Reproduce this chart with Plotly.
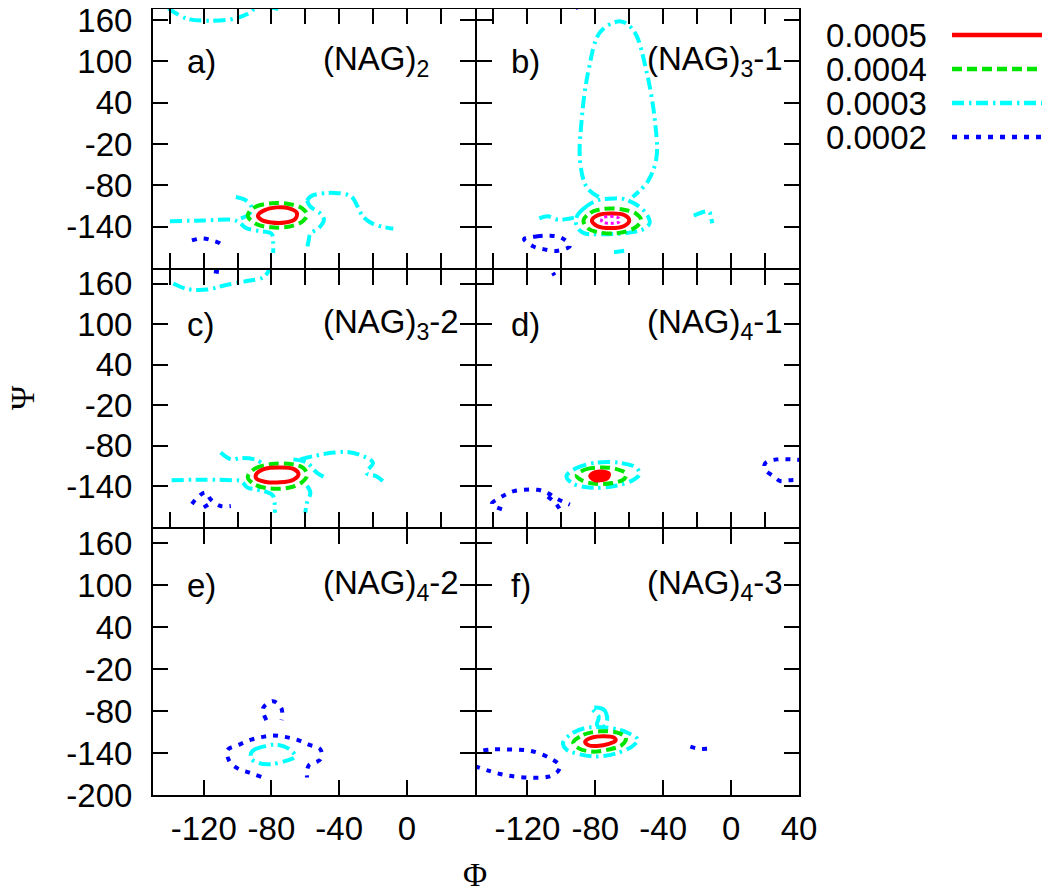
import plotly.graph_objects as go

# ---------------- data ----------------
LEVEL_LABELS = ["0.0005", "0.0004", "0.0003", "0.0002"]
LEVEL_COLORS = ["#ff0000", "#00e600", "#00ffff", "#0000ff"]
LEVEL_DASH = ["solid", "10px,5px", "12px,5px,2.5px,4.5px", "5px,7px"]
EXTRA_COLOR = "#ff00ff"

PANEL_LETTERS = ["a)", "b)", "c)", "d)", "e)", "f)"]
PANEL_NAMES = ["(NAG)<sub>2</sub>", "(NAG)<sub>3</sub>-1", "(NAG)<sub>3</sub>-2",
               "(NAG)<sub>4</sub>-1", "(NAG)<sub>4</sub>-2", "(NAG)<sub>4</sub>-3"]

X_TICKS_FINE = [-140, -120, -100, -80, -60, -40, -20, 0, 20, 40]
X_TICKS_LEFT = [-120, -80, -40, 0]
X_TICKS_RIGHT = [-120, -80, -40, 0, 40]
Y_TICKS = [160, 100, 40, -20, -80, -140]
Y_TICKS_BOTTOM = [160, 100, 40, -20, -80, -140, -200]

# contour paths (Phi, Psi) per panel and level
a_red = [[(-88, -124), (-84, -116), (-77, -112), (-70, -113), (-65, -120), (-66, -129), (-72, -134), (-80, -134), (-86, -130), (-88, -124)]]
a_green = [[(-94, -124), (-90, -112), (-80, -106), (-70, -107), (-62, -113), (-59, -123), (-62, -133), (-70, -140), (-80, -141), (-89, -136), (-94, -124)]]
a_cyan = [
    [(-141, 177), (-130, 162), (-118, 159), (-104, 161), (-94, 169), (-88, 182)],
    [(-80, 178), (-76, 176)],
    [(-140, -132), (-120, -131), (-103, -130), (-99, -134), (-95, -142), (-88, -146), (-80, -150), (-79, -162), (-79, -178)],
    [(-101, -97), (-95, -102), (-92, -111), (-93, -121), (-98, -128)],
    [(-59, -102), (-57, -111), (-51, -121), (-49, -130), (-52, -142), (-57, -150), (-58, -160), (-59, -172)],
    [(-59, -102), (-56, -95), (-43, -91), (-33, -96), (-29, -111), (-26, -125), (-20, -136), (-8, -143)],
]
a_blue = [[(-127, -160), (-121, -157), (-115, -160), (-110, -165), (-109, -170)]]

b_extra = [[(-76, -128), (-71, -125), (-66, -128), (-66, -133), (-71, -135), (-76, -133), (-76, -128)]]
b_red = [[(-82, -131), (-78, -123), (-71, -121), (-63, -123), (-60, -131), (-63, -139), (-71, -142), (-79, -139), (-82, -131)]]
b_green = [[(-87, -131), (-83, -120), (-75, -114), (-64, -115), (-56, -121), (-53, -131), (-57, -142), (-66, -149), (-76, -149), (-84, -143), (-87, -131)]]
b_cyan = [
    [(-78, -97), (-85, -83), (-89, -45), (-88, 16), (-84, 87), (-77, 143), (-65, 158), (-57, 143), (-50, 87), (-45, 16), (-44, -40), (-49, -74), (-58, -97)],
    [(-91, -126), (-87, -114), (-79, -102), (-69, -99), (-63, -100), (-54, -111), (-49, -125), (-48, -135), (-52, -144), (-61, -149), (-75, -151), (-87, -149), (-91, -139), (-91, -126)],
    [(-113, -128), (-108, -125), (-102, -130), (-95, -128), (-91, -126)],
    [(-22, -124), (-13, -118), (-12, -126), (-11, -135)],
    [(-69, -177), (-63, -175)],
]
b_blue = [[(-122, -158), (-114, -154), (-107, -153), (-100, -156), (-95, -168), (-102, -175), (-110, -173), (-117, -168), (-122, -158)],
          [(-91, 181), (-90, 176)]]

c_red = [[(-89, -122), (-84, -114), (-75, -112), (-67, -114), (-64, -122), (-67, -130), (-75, -134), (-84, -133), (-89, -128), (-89, -122)]]
c_green = [[(-94, -126), (-90, -114), (-80, -107), (-68, -107), (-61, -113), (-59, -124), (-62, -134), (-70, -142), (-81, -143), (-90, -137), (-94, -126)]]
c_cyan = [
    [(-138, 160), (-130, 152), (-118, 151), (-108, 157), (-94, 164), (-85, 169), (-81, 181)],
    [(-139, -131), (-122, -130), (-102, -131), (-98, -132), (-94, -142), (-90, -144), (-82, -149), (-79, -154), (-78, -179)],
    [(-110, -90), (-104, -100), (-98, -98), (-90, -100), (-86, -105)],
    [(-67, -100), (-59, -105), (-53, -120), (-48, -127)],
    [(-59, -139), (-57, -149), (-59, -164), (-60, -179)],
    [(-63, -100), (-55, -95), (-43, -90), (-35, -89), (-26, -95), (-20, -105), (-24, -120), (-18, -125), (-12, -137)],
]
c_blue = [[(-127, -166), (-124, -157), (-119, -149), (-116, -159), (-110, -169), (-104, -169)],
          [(-120, -171), (-116, -165)],
          [(-114, 178), (-108, 176)]]

d_red = [[(-83, -125), (-80, -119), (-76, -118), (-72, -121), (-73, -128), (-77, -131), (-80, -131), (-83, -125)]]
d_green = [[(-91, -124), (-86, -115), (-77, -112), (-68, -114), (-62, -121), (-63, -129), (-70, -135), (-80, -136), (-88, -131), (-91, -124)]]
d_cyan = [[(-97, -125), (-92, -114), (-80, -105), (-66, -105), (-56, -112), (-54, -122), (-58, -131), (-68, -139), (-82, -142), (-93, -136), (-97, -125)]]
d_blue = [
    [(-135, -174), (-141, -166), (-135, -155), (-128, -147), (-114, -145), (-108, -150), (-102, -159), (-95, -167)],
    [(-108, -155), (-103, -166), (-100, -178)],
    [(42, -101), (35, -100), (27, -100), (20, -106), (20, -115), (25, -125), (29, -132), (34, -131), (42, -130)],
    [(-105, 176), (-104, 172)],
]

e_cyan = [[(-92, -140), (-90, -135), (-83, -130), (-77, -128), (-69, -135), (-66, -145), (-71, -151), (-81, -156), (-88, -154), (-92, -148), (-92, -140)]]
e_blue = [
    [(-86, -174), (-93, -168), (-100, -162), (-105, -151), (-106, -136), (-99, -128), (-92, -121), (-85, -117), (-79, -115), (-72, -117), (-65, -121), (-58, -128), (-51, -135), (-51, -149), (-58, -158), (-59, -175)],
    [(-83, -93), (-85, -76), (-79, -66), (-74, -77), (-74, -93)],
]

f_red = [[(-86, -124), (-82, -118), (-75, -116), (-69, -118), (-68, -122), (-72, -127), (-79, -130), (-84, -129), (-86, -124)]]
f_green = [[(-93, -125), (-87, -114), (-77, -109), (-67, -111), (-62, -118), (-64, -128), (-72, -135), (-82, -138), (-90, -133), (-93, -125)]]
f_cyan = [
    [(-99, -125), (-93, -111), (-85, -104), (-72, -104), (-61, -111), (-55, -121), (-58, -130), (-67, -140), (-79, -145), (-89, -142), (-97, -135), (-99, -125)],
    [(-82, -76), (-75, -78), (-73, -92), (-75, -102), (-79, -100), (-78, -88), (-82, -76)],
]
f_blue = [
    [(-153, -140), (-142, -135), (-130, -135), (-118, -137), (-107, -147), (-101, -158), (-102, -166), (-108, -174), (-120, -175), (-132, -172), (-142, -166), (-153, -157)],
    [(-24, -131), (-19, -134), (-14, -134)],
]

PANELS = [
    {"red": a_red, "green": a_green, "cyan": a_cyan, "blue": a_blue},
    {"red": b_red, "green": b_green, "cyan": b_cyan, "blue": b_blue, "extra": b_extra},
    {"red": c_red, "green": c_green, "cyan": c_cyan, "blue": c_blue},
    {"red": d_red, "green": d_green, "cyan": d_cyan, "blue": d_blue},
    {"red": [], "green": [], "cyan": e_cyan, "blue": e_blue},
    {"red": f_red, "green": f_green, "cyan": f_cyan, "blue": f_blue},
]
KEYS = ["red", "green", "cyan", "blue"]
FILLED_RED_PANELS = [3]  # the 0.0005 island of (NAG)4-1 is a small solid blob

# ---------------- figure ----------------
# positions below are given in picture pixels; the page shows the figure
# with an 8px body offset
OFF = 8
W, H = 1050, 893
FONT = "Liberation Sans, Arial, sans-serif"
SERIF = "Liberation Serif, Times New Roman, serif"
FS = 33


def px(p):
    return (p - OFF) / W


def py(p):
    return 1 - (p - OFF) / H


x_dom = [[px(153), px(474.5)], [px(476.5), px(799)]]
y_dom = [[py(268), py(9)], [py(527), py(270)], [py(795), py(529)]]
y_ranges = [[-200, 176], [-200, 180], [-200, 180]]


def segs_to_xy(segs):
    xs, ys = [], []
    for s in segs:
        if xs:
            xs.append(None)
            ys.append(None)
        for p, q in s:
            xs.append(p)
            ys.append(q)
    return xs, ys


def hyph(v):
    return str(v).replace("\u2212", "-")


fig = go.Figure()
layout = {}
annotations = []
for i, panel in enumerate(PANELS):
    row, col = divmod(i, 2)
    n = i + 1
    xa = "x" if n == 1 else f"x{n}"
    ya = "y" if n == 1 else f"y{n}"
    for k in reversed(range(4)):
        segs = panel[KEYS[k]]
        if not segs:
            continue
        xs, ys = segs_to_xy(segs)
        filled = (k == 0 and i in FILLED_RED_PANELS)
        fig.add_trace(go.Scatter(
            x=xs, y=ys, mode="lines", xaxis=xa, yaxis=ya, showlegend=False,
            line=dict(color=LEVEL_COLORS[k], width=4, dash=LEVEL_DASH[k], shape="spline", smoothing=1.0),
            fill="toself" if filled else "none", fillcolor=LEVEL_COLORS[k],
            hoverinfo="skip"))
    if "extra" in panel:
        xs, ys = segs_to_xy(panel["extra"])
        fig.add_trace(go.Scatter(
            x=xs, y=ys, mode="lines", xaxis=xa, yaxis=ya, showlegend=False,
            line=dict(color=EXTRA_COLOR, width=3, dash="3px,3px", shape="spline"),
            hoverinfo="skip"))

    bottom = row == 2
    if bottom:
        xt = X_TICKS_LEFT if col == 0 else X_TICKS_RIGHT
    else:
        xt = X_TICKS_FINE
    yt = Y_TICKS_BOTTOM if bottom else Y_TICKS
    common = dict(showline=True, linecolor="black", linewidth=2, mirror="allticks",
                  ticks="inside", ticklen=15, tickwidth=2, tickcolor="black",
                  showgrid=False, zeroline=False, ticklabeloverflow="allow",
                  tickfont=dict(family=FONT, size=FS, color="black"))
    layout["xaxis" if n == 1 else f"xaxis{n}"] = dict(
        domain=x_dom[col], anchor=ya, range=[-150, 40], tickvals=xt,
        ticktext=[hyph(v) for v in xt],
        showticklabels=bottom, ticklabelstandoff=3, **common)
    layout["yaxis" if n == 1 else f"yaxis{n}"] = dict(
        domain=y_dom[row], anchor=xa, range=y_ranges[row], tickvals=yt,
        ticktext=[hyph(v) for v in yt],
        showticklabels=(col == 0), ticklabelstandoff=12, **common)

    annotations.append(dict(x=-131, y=100, xref=xa, yref=ya, text=PANEL_LETTERS[i],
                            showarrow=False, xanchor="left", yanchor="middle",
                            font=dict(family=FONT, size=FS, color="black")))
    annotations.append(dict(x=-51, y=100, xref=xa, yref=ya, text=PANEL_NAMES[i],
                            showarrow=False, xanchor="left", yanchor="middle",
                            font=dict(family=FONT, size=FS, color="black")))

# axis titles
annotations.append(dict(x=px(475), y=py(875), xref="paper", yref="paper", text="Φ",
                        showarrow=False, xanchor="center", yanchor="middle",
                        font=dict(family=SERIF, size=FS, color="black")))
annotations.append(dict(x=px(23), y=py(398), xref="paper", yref="paper", text="Ψ",
                        textangle=-90, showarrow=False, xanchor="center", yanchor="middle",
                        font=dict(family=SERIF, size=FS, color="black")))

# legend (text on the left, line sample on the right)
shapes = []
legend_y = [35, 69, 103, 137]
for k in range(4):
    yp = py(legend_y[k])
    annotations.append(dict(x=px(929), y=yp, xref="paper", yref="paper", text=LEVEL_LABELS[k],
                            showarrow=False, xanchor="right", yanchor="middle", height=32,
                            font=dict(family=FONT, size=FS, color="black")))
    shapes.append(dict(type="line", xref="paper", yref="paper", x0=px(952), x1=1.0, y0=yp, y1=yp,
                       line=dict(color=LEVEL_COLORS[k], width=4.5, dash=LEVEL_DASH[k])))

fig.update_layout(
    width=W, height=H, margin=dict(l=0, r=0, t=0, b=0, autoexpand=False),
    paper_bgcolor="white", plot_bgcolor="white",
    showlegend=False, annotations=annotations, shapes=shapes, **layout)

fig.write_html("out.html")
